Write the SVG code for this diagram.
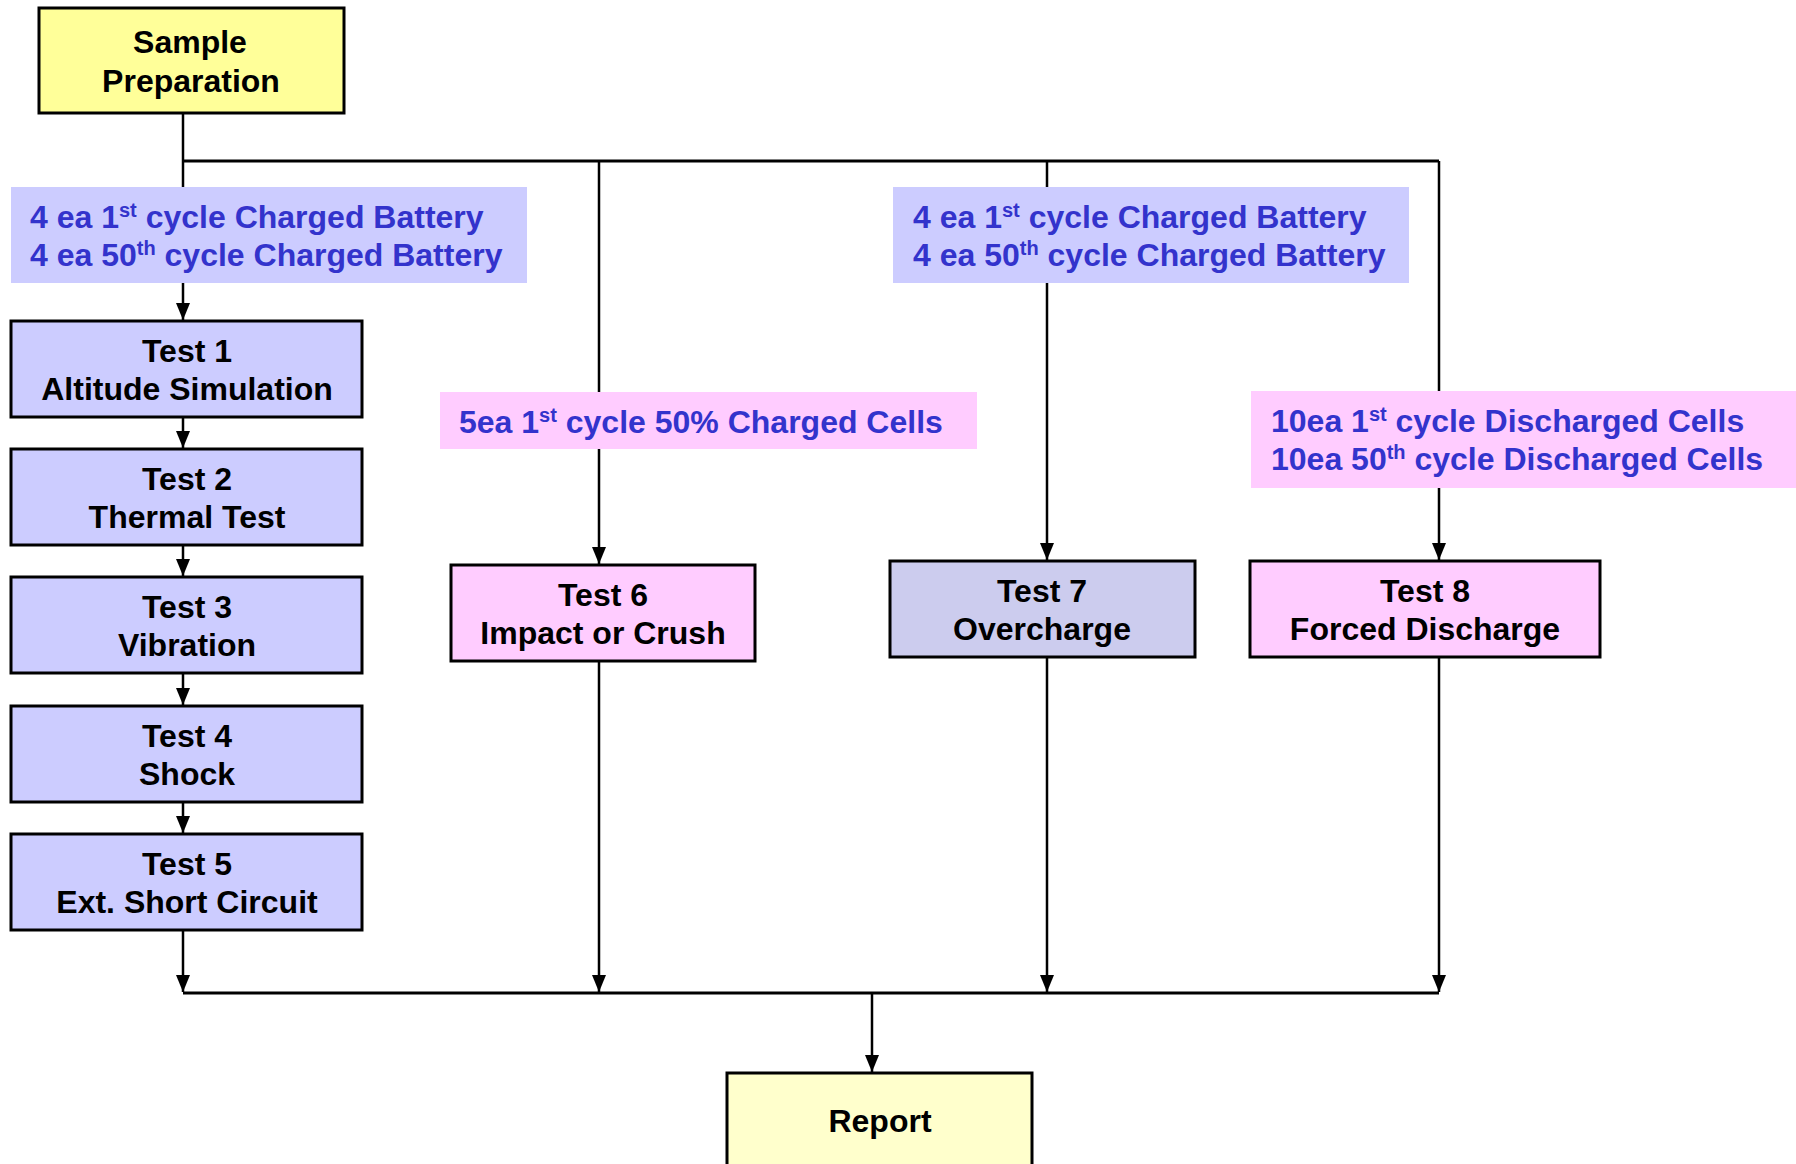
<svg xmlns="http://www.w3.org/2000/svg" width="1796" height="1164" viewBox="0 0 1796 1164">
<defs>
<style>
text{font-family:"Liberation Sans",Arial,sans-serif;font-weight:bold;font-size:32px}
.n{fill:#000;text-anchor:middle}
.l{fill:#3333CC}
.sup{font-size:20px}
.box{stroke:#000;stroke-width:3}
.c{fill:none;stroke:#000;stroke-width:2.5}
.bar{fill:none;stroke:#000;stroke-width:3}
</style>
<marker id="ah" viewBox="0 0 17 14" refX="17" refY="7" markerWidth="17" markerHeight="14" markerUnits="userSpaceOnUse" orient="auto">
<path d="M0,0 L17,7 L0,14 z" fill="#000"/>
</marker>
</defs>
<rect width="1796" height="1164" fill="#fff"/>
<g id="connectors">
<path class="c" d="M183,113 V320" marker-end="url(#ah)"/>
<path class="bar" d="M183,161 H1439"/>
<path class="c" d="M599,161 V564" marker-end="url(#ah)"/>
<path class="c" d="M1047,161 V560" marker-end="url(#ah)"/>
<path class="c" d="M1439,161 V560" marker-end="url(#ah)"/>
<path class="c" d="M183,417 V448" marker-end="url(#ah)"/>
<path class="c" d="M183,545 V576" marker-end="url(#ah)"/>
<path class="c" d="M183,673 V705" marker-end="url(#ah)"/>
<path class="c" d="M183,802 V833" marker-end="url(#ah)"/>
<path class="c" d="M183,930 V992" marker-end="url(#ah)"/>
<path class="c" d="M599,661 V992" marker-end="url(#ah)"/>
<path class="c" d="M1047,657 V992" marker-end="url(#ah)"/>
<path class="c" d="M1439,657 V992" marker-end="url(#ah)"/>
<path class="bar" d="M183,993 H1439"/>
<path class="c" d="M872,993 V1072" marker-end="url(#ah)"/>
</g>
<g id="sample-prep">
<rect class="box" x="39" y="8" width="305" height="105" fill="#FFFF99"/>
<text class="n" x="190" y="53">Sample</text>
<text class="n" x="191" y="92">Preparation</text>
</g>
<g id="label-battery-1">
<rect x="11" y="187" width="516" height="96" fill="#CCCCFF"/>
<text class="l" x="30" y="228">4 ea 1<tspan class="sup" dy="-11">st</tspan><tspan dy="11"> cycle Charged Battery</tspan></text>
<text class="l" x="30" y="266">4 ea 50<tspan class="sup" dy="-11">th</tspan><tspan dy="11"> cycle Charged Battery</tspan></text>
</g>
<g id="test1">
<rect class="box" x="11" y="321" width="351" height="96" fill="#CCCCFF"/>
<text class="n" x="187" y="362">Test 1</text>
<text class="n" x="187" y="400">Altitude Simulation</text>
</g>
<g id="test2">
<rect class="box" x="11" y="449" width="351" height="96" fill="#CCCCFF"/>
<text class="n" x="187" y="490">Test 2</text>
<text class="n" x="187" y="528">Thermal Test</text>
</g>
<g id="test3">
<rect class="box" x="11" y="577" width="351" height="96" fill="#CCCCFF"/>
<text class="n" x="187" y="618">Test 3</text>
<text class="n" x="187" y="656">Vibration</text>
</g>
<g id="test4">
<rect class="box" x="11" y="706" width="351" height="96" fill="#CCCCFF"/>
<text class="n" x="187" y="747">Test 4</text>
<text class="n" x="187" y="785">Shock</text>
</g>
<g id="test5">
<rect class="box" x="11" y="834" width="351" height="96" fill="#CCCCFF"/>
<text class="n" x="187" y="875">Test 5</text>
<text class="n" x="187" y="913">Ext. Short Circuit</text>
</g>
<g id="label-cells-50">
<rect x="440" y="392" width="537" height="57" fill="#FFCCFF"/>
<text class="l" x="459" y="433">5ea 1<tspan class="sup" dy="-11">st</tspan><tspan dy="11"> cycle 50% Charged Cells</tspan></text>
</g>
<g id="test6">
<rect class="box" x="451" y="565" width="304" height="96" fill="#FFCCFF"/>
<text class="n" x="603" y="606">Test 6</text>
<text class="n" x="603" y="644">Impact or Crush</text>
</g>
<g id="label-battery-2">
<rect x="893" y="187" width="516" height="96" fill="#CCCCFF"/>
<text class="l" x="913" y="228">4 ea 1<tspan class="sup" dy="-11">st</tspan><tspan dy="11"> cycle Charged Battery</tspan></text>
<text class="l" x="913" y="266">4 ea 50<tspan class="sup" dy="-11">th</tspan><tspan dy="11"> cycle Charged Battery</tspan></text>
</g>
<g id="test7">
<rect class="box" x="890" y="561" width="305" height="96" fill="#CCCCEE"/>
<text class="n" x="1042" y="602">Test 7</text>
<text class="n" x="1042" y="640">Overcharge</text>
</g>
<g id="label-cells-discharged">
<rect x="1251" y="391" width="550" height="97" fill="#FFCCFF"/>
<text class="l" x="1271" y="432">10ea 1<tspan class="sup" dy="-11">st</tspan><tspan dy="11"> cycle Discharged Cells</tspan></text>
<text class="l" x="1271" y="470">10ea 50<tspan class="sup" dy="-11">th</tspan><tspan dy="11"> cycle Discharged Cells</tspan></text>
</g>
<g id="test8">
<rect class="box" x="1250" y="561" width="350" height="96" fill="#FFCCFF"/>
<text class="n" x="1425" y="602">Test 8</text>
<text class="n" x="1425" y="640">Forced Discharge</text>
</g>
<g id="report">
<rect class="box" x="727" y="1073" width="305" height="100" fill="#FFFFCC"/>
<text class="n" x="880" y="1132">Report</text>
</g>
</svg>
